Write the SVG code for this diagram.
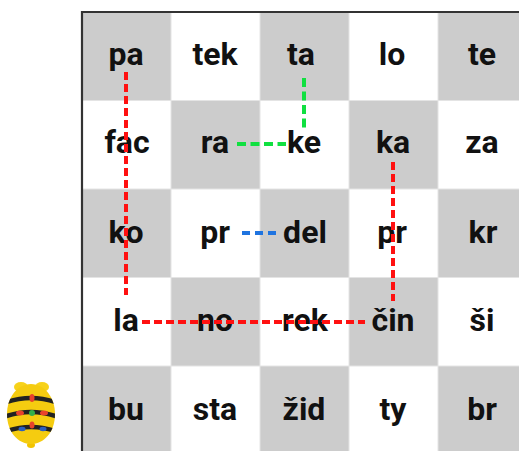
<svg xmlns="http://www.w3.org/2000/svg" width="519" height="451" viewBox="0 0 519 451">
  <style>
    .dark { fill: #cccccc; }
    .light { fill: #ffffff; }
    .grid { stroke: #e4e4e4; stroke-width: 1; fill: none; }
    .word { font-family: Roboto, "Liberation Sans", sans-serif; font-weight: 700; font-size: 32px; fill: #111111; text-anchor: middle; }
    .path { fill: none; stroke-width: 4; }
    .red { stroke: #ff1010; stroke-dasharray: 8 4; }
    .green { stroke: #10e040; stroke-dasharray: 9 4.5; }
    .blue { stroke: #1f74e0; stroke-dasharray: 8 5; }
  </style>
  <rect width="519" height="451" fill="#ffffff"/>

  <!-- board squares -->
  <g id="board">
    <rect class="dark" x="82" y="12" width="89" height="88.5"/>
    <rect class="light" x="171" y="12" width="89" height="88.5"/>
    <rect class="dark" x="260" y="12" width="89" height="88.5"/>
    <rect class="light" x="349" y="12" width="89" height="88.5"/>
    <rect class="dark" x="438" y="12" width="89" height="88.5"/>

    <rect class="light" x="82" y="100.5" width="89" height="88.5"/>
    <rect class="dark" x="171" y="100.5" width="89" height="88.5"/>
    <rect class="light" x="260" y="100.5" width="89" height="88.5"/>
    <rect class="dark" x="349" y="100.5" width="89" height="88.5"/>
    <rect class="light" x="438" y="100.5" width="89" height="88.5"/>

    <rect class="dark" x="82" y="189" width="89" height="88.5"/>
    <rect class="light" x="171" y="189" width="89" height="88.5"/>
    <rect class="dark" x="260" y="189" width="89" height="88.5"/>
    <rect class="light" x="349" y="189" width="89" height="88.5"/>
    <rect class="dark" x="438" y="189" width="89" height="88.5"/>

    <rect class="light" x="82" y="277.5" width="89" height="88.5"/>
    <rect class="dark" x="171" y="277.5" width="89" height="88.5"/>
    <rect class="light" x="260" y="277.5" width="89" height="88.5"/>
    <rect class="dark" x="349" y="277.5" width="89" height="88.5"/>
    <rect class="light" x="438" y="277.5" width="89" height="88.5"/>

    <rect class="dark" x="82" y="366" width="89" height="88.5"/>
    <rect class="light" x="171" y="366" width="89" height="88.5"/>
    <rect class="dark" x="260" y="366" width="89" height="88.5"/>
    <rect class="light" x="349" y="366" width="89" height="88.5"/>
    <rect class="dark" x="438" y="366" width="89" height="88.5"/>

    <path class="grid" d="M171,12V451M260,12V451M349,12V451M438,12V451M82,100.5H519M82,189H519M82,277.5H519M82,366H519"/>
    <path d="M82,451V12H519" fill="none" stroke="#333333" stroke-width="2.2"/>
  </g>

  <!-- syllables -->
  <g id="r1">
    <text class="word" x="126" y="65">pa</text>
    <text class="word" x="215" y="65">tek</text>
    <text class="word" x="301" y="65">ta</text>
    <text class="word" x="392" y="65">lo</text>
    <text class="word" x="482" y="65">te</text>
  </g>
  <g id="r2">
    <text class="word" x="127" y="153">fac</text>
    <text class="word" x="215" y="153">ra</text>
    <text class="word" x="304" y="153">ke</text>
    <text class="word" x="393" y="153">ka</text>
    <text class="word" x="482" y="153">za</text>
  </g>
  <g id="r3">
    <text class="word" x="126" y="243">ko</text>
    <text class="word" x="215" y="243">pr</text>
    <text class="word" x="305" y="243">del</text>
    <text class="word" x="392" y="243">pr</text>
    <text class="word" x="483" y="243">kr</text>
  </g>
  <g id="r4">
    <text class="word" x="126" y="331">la</text>
    <text class="word" x="215" y="331">no</text>
    <text class="word" x="305" y="331">rek</text>
    <text class="word" x="393" y="331">čin</text>
    <text class="word" x="482" y="331">ši</text>
  </g>
  <g id="r5">
    <text class="word" x="126" y="420">bu</text>
    <text class="word" x="215" y="420">sta</text>
    <text class="word" x="304" y="420">žid</text>
    <text class="word" x="393" y="420">ty</text>
    <text class="word" x="482" y="420">br</text>
  </g>

  <!-- dashed routes -->
  <g id="connectors">
    <path class="path red" d="M126,72V295"/>
    <path class="path red" d="M142,322H365"/>
    <path class="path red" d="M393,162V301"/>
    <path class="path green" d="M304,78V128"/>
    <path class="path green" d="M237,144H286"/>
    <path class="path blue" d="M242,233H276"/>
  </g>

  <!-- floor robot -->
  <g id="robot">
    <ellipse cx="31" cy="445" rx="4" ry="3" fill="#f2c400"/>
    <ellipse cx="21" cy="387" rx="7" ry="5" fill="#f7d21a"/>
    <ellipse cx="42" cy="387" rx="7" ry="5" fill="#f7d21a"/>
    <path id="shell" d="M31,384C45,384 55,398 55,414C55,432 44,444 31,444C18,444 7,432 7,414C7,398 17,384 31,384Z" fill="#f5cc10"/>
    <clipPath id="body">
      <path d="M31,384C45,384 55,398 55,414C55,432 44,444 31,444C18,444 7,432 7,414C7,398 17,384 31,384Z"/>
    </clipPath>
    <g clip-path="url(#body)" fill="none" stroke="#222222" stroke-width="4.5">
      <path d="M4,403Q31,393 58,403"/>
      <path d="M4,417Q31,407 58,417"/>
      <path d="M4,432Q31,422 58,432"/>
    </g>
    <ellipse cx="32" cy="398" rx="2.5" ry="4" fill="#e8432c"/>
    <ellipse cx="20" cy="413" rx="4" ry="2.5" fill="#e8432c"/>
    <circle cx="32" cy="413" r="3" fill="#33b04a"/>
    <ellipse cx="44" cy="413" rx="4" ry="2.5" fill="#e8432c"/>
    <ellipse cx="32" cy="425" rx="2.5" ry="3.5" fill="#e8432c"/>
    <ellipse cx="22" cy="429" rx="3.5" ry="2.2" fill="#2b5fc0"/>
    <ellipse cx="43" cy="429" rx="3.5" ry="2.2" fill="#2b5fc0"/>
  </g>
</svg>
